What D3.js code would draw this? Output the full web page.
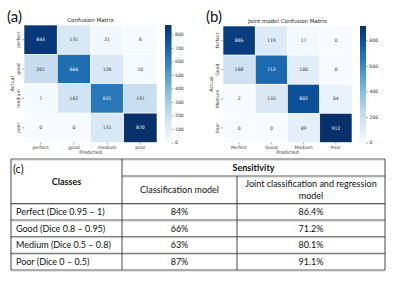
<!DOCTYPE html>
<html>
<head>
<meta charset="utf-8">
<script src="https://cdn.jsdelivr.net/npm/d3@7"></script>
<style>
  body { margin: 0; background: #fff; }
  svg { display: block; font-family: 'DejaVu Sans', sans-serif; }
  .tbl text { font-family: Lato, 'Open Sans', sans-serif; fill: #111; }
</style>
</head>
<body>
<svg width="400" height="281"></svg>
<script>
// data
var classesA = ['perfect', 'good', 'medium', 'poor'];
var classesB = ['Perfect', 'Good', 'Medium', 'Poor'];
var matrixA = [[843, 131, 21, 6], [201, 664, 126, 10], [7, 162, 631, 197], [0, 0, 131, 870]];
var matrixB = [[865, 119, 17, 0], [188, 713, 100, 0], [2, 133, 802, 64], [0, 0, 89, 912]];
var ticksA = [0, 100, 200, 300, 400, 500, 600, 700, 800];
var ticksB = [0, 200, 400, 600, 800];

var tableClasses = ['Perfect (Dice 0.95 \u2013 1)', 'Good (Dice 0.8 \u2013 0.95)', 'Medium (Dice 0.5 \u2013  0.8)', 'Poor (Dice 0 \u2013 0.5)'];
var sensClassif = ['84%', '66%', '63%', '87%'];
var sensJoint = ['86.4%', '71.2%', '80.1%', '91.1%'];

var svg = d3.select('svg');

function drawMatrix(p) {
    var g = svg.append('g');
    var flat = d3.merge(p.data);
    var vmax = d3.max(flat);
    var color = d3.scaleSequential(d3.interpolateBlues).domain([0, vmax]);

    var x = d3.scaleBand().domain(p.classes).range([p.x0, p.x1]);
    var y = d3.scaleBand().domain(p.classes).range([p.y0, p.y1]);

    var cells = [];
    p.data.forEach(function(row, i) {
        row.forEach(function(v, j) {
            cells.push({actual: p.classes[i], pred: p.classes[j], v: v});
        });
    });

    g.selectAll('rect.cell').data(cells).enter().append('rect')
        .attr('class', 'cell')
        .attr('x', function(d) { return x(d.pred); })
        .attr('y', function(d) { return y(d.actual); })
        .attr('width', x.bandwidth())
        .attr('height', y.bandwidth())
        .attr('fill', function(d) { return color(d.v); })
        .attr('stroke', '#fff')
        .attr('stroke-width', 0.6);

    g.selectAll('text.val').data(cells).enter().append('text')
        .attr('x', function(d) { return x(d.pred) + x.bandwidth() / 2; })
        .attr('y', function(d) { return y(d.actual) + y.bandwidth() / 2; })
        .attr('dy', '0.35em')
        .attr('text-anchor', 'middle')
        .attr('font-size', 4.6)
        .attr('fill', function(d) { return d3.lab(color(d.v)).l < 55 ? '#fff' : '#333'; })
        .text(function(d) { return d.v; });

    // axes
    var xAxis = g.append('g')
        .attr('transform', 'translate(0,' + p.y1 + ')')
        .call(d3.axisBottom(x).tickSize(2).tickPadding(1));
    var yAxis = g.append('g')
        .attr('transform', 'translate(' + p.x0 + ',0)')
        .call(d3.axisLeft(y).tickSize(2).tickPadding(1));
    [xAxis, yAxis].forEach(function(a) {
        a.select('.domain').remove();
        a.selectAll('line').attr('stroke', '#555').attr('stroke-width', 0.5);
        a.selectAll('text').attr('font-size', 4.6).attr('fill', '#333').attr('font-family', 'DejaVu Sans');
    });
    yAxis.selectAll('text')
        .attr('transform', 'rotate(-90)')
        .attr('x', 0).attr('dx', 0)
        .attr('y', -4).attr('dy', 0)
        .attr('text-anchor', 'middle');

    g.append('text')
        .attr('x', (p.x0 + p.x1) / 2).attr('y', p.y1 + 11)
        .attr('text-anchor', 'middle').attr('font-size', 4.8).attr('fill', '#333')
        .text('Predicted');
    g.append('text')
        .attr('transform', 'translate(' + (p.x0 - 10) + ',' + ((p.y0 + p.y1) / 2) + ') rotate(-90)')
        .attr('text-anchor', 'middle').attr('font-size', 4.8).attr('fill', '#333')
        .text('Actual');
    g.append('text')
        .attr('x', (p.x0 + p.x1) / 2).attr('y', p.y0 - 3)
        .attr('text-anchor', 'middle').attr('font-size', 5.5).attr('fill', '#222')
        .text(p.title);
    g.append('text')
        .attr('x', p.labelX).attr('y', 22)
        .attr('font-size', 15).attr('font-family', 'Lato, sans-serif').attr('fill', '#111')
        .text(p.label);

    // colorbar
    var cb = d3.scaleLinear().domain([0, vmax]).range([p.y1, p.y0]);
    var gradId = 'grad' + p.label.replace(/\W/g, '');
    var grad = svg.append('defs').append('linearGradient')
        .attr('id', gradId).attr('x1', 0).attr('x2', 0).attr('y1', 1).attr('y2', 0);
    d3.range(0, 1.01, 0.1).forEach(function(t) {
        grad.append('stop').attr('offset', t).attr('stop-color', color(t * vmax));
    });
    g.append('rect')
        .attr('x', p.cbX).attr('y', p.y0)
        .attr('width', p.cbW).attr('height', p.y1 - p.y0)
        .attr('fill', 'url(#' + gradId + ')');
    var cbAxis = g.append('g')
        .attr('transform', 'translate(' + (p.cbX + p.cbW) + ',0)')
        .call(d3.axisRight(cb).tickValues(p.ticks).tickSize(2).tickPadding(1.5));
    cbAxis.select('.domain').remove();
    cbAxis.selectAll('line').attr('stroke', '#555').attr('stroke-width', 0.5);
    cbAxis.selectAll('text').attr('font-size', 4.6).attr('fill', '#333').attr('font-family', 'DejaVu Sans');
}

drawMatrix({
    data: matrixA, classes: classesA, title: 'Confusion Matrix', label: '(a)', labelX: 7,
    x0: 24, x1: 157, y0: 25, y1: 142.5, cbX: 165, cbW: 6.5, ticks: ticksA
});
drawMatrix({
    data: matrixB, classes: classesB, title: 'Joint model Confusion Matrix', label: '(b)', labelX: 206,
    x0: 223, x1: 352, y0: 26, y1: 142.5, cbX: 360, cbW: 6, ticks: ticksB
});

// table (c)
var tbl = svg.append('g').attr('class', 'tbl');
var colX = [11, 122, 237, 385];
var rowY = [159, 176, 203.5, 220, 236.7, 253.3, 270];

function hline(x1, x2, yy, w) {
    tbl.append('line').attr('x1', x1).attr('x2', x2).attr('y1', yy).attr('y2', yy)
        .attr('stroke', '#333').attr('stroke-width', w || 0.8);
    tbl.append('line').attr('x1', x1).attr('x2', x2).attr('y1', yy + 1).attr('y2', yy + 1)
        .attr('stroke', '#aaa').attr('stroke-width', 0.6);
}
function vline(xx, y1, y2) {
    tbl.append('line').attr('x1', xx).attr('x2', xx).attr('y1', y1).attr('y2', y2)
        .attr('stroke', '#333').attr('stroke-width', 0.9);
}

hline(colX[0], colX[3], rowY[0]);
hline(colX[1], colX[3], rowY[1]);
hline(colX[0], colX[3], rowY[2]);
for (var r = 3; r < rowY.length; r++) hline(colX[0], colX[3], rowY[r]);
vline(colX[0], rowY[0], rowY[6]);
vline(colX[1], rowY[0], rowY[6]);
vline(colX[2], rowY[1], rowY[6]);
vline(colX[3], rowY[0], rowY[6]);

tbl.append('text').attr('x', 13).attr('y', 173).attr('font-size', 11).text('(c)');
tbl.append('text').attr('x', (colX[0] + colX[1]) / 2).attr('y', 185)
    .attr('text-anchor', 'middle').attr('font-size', 9).attr('font-weight', 'bold').text('Classes');
tbl.append('text').attr('x', (colX[1] + colX[3]) / 2).attr('y', 171)
    .attr('text-anchor', 'middle').attr('font-size', 9).attr('font-weight', 'bold').text('Sensitivity');
tbl.append('text').attr('x', (colX[1] + colX[2]) / 2).attr('y', 193)
    .attr('text-anchor', 'middle').attr('font-size', 9).text('Classification model');
tbl.append('text').attr('x', (colX[2] + colX[3]) / 2).attr('y', 187)
    .attr('text-anchor', 'middle').attr('font-size', 9).text('Joint classification and regression');
tbl.append('text').attr('x', (colX[2] + colX[3]) / 2).attr('y', 199)
    .attr('text-anchor', 'middle').attr('font-size', 9).text('model');

tableClasses.forEach(function(c, i) {
    var cy = (rowY[i + 2] + rowY[i + 3]) / 2 + 3.3;
    tbl.append('text').attr('x', 16).attr('y', cy).attr('font-size', 9).text(c);
    tbl.append('text').attr('x', (colX[1] + colX[2]) / 2).attr('y', cy)
        .attr('text-anchor', 'middle').attr('font-size', 9).text(sensClassif[i]);
    tbl.append('text').attr('x', (colX[2] + colX[3]) / 2).attr('y', cy)
        .attr('text-anchor', 'middle').attr('font-size', 9).text(sensJoint[i]);
});
</script>
</body>
</html>
